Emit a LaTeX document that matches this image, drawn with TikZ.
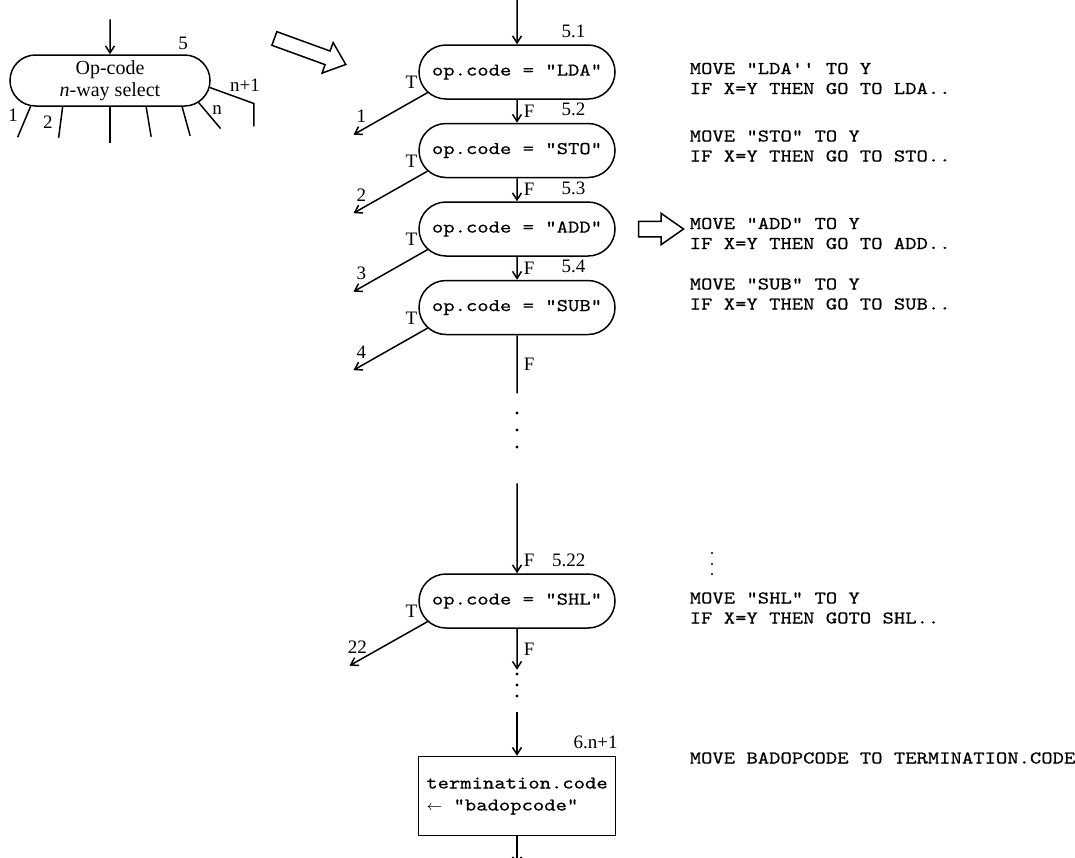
\documentclass[tikz,border=0pt]{standalone}
\usepackage{fontspec}
\setmainfont{Liberation Serif}
\setmonofont{lmmono10-regular.otf}[FakeStretch=1.2, FakeBold=0.5]
\usetikzlibrary{arrows.meta,positioning,shapes.misc,shapes.arrows}

\begin{document}
\begin{tikzpicture}[
  x=0.5pt, y=-0.5pt,
  node distance=11.5pt,
  line width=0.75pt,
  sel/.style={draw, rounded rectangle, minimum width=100pt, minimum height=25.5pt,
              inner sep=0pt, align=center, font=\fontsize{10}{11}\selectfont},
  test/.style={draw, rounded rectangle, minimum width=98pt, minimum height=27pt,
               inner sep=0pt, font=\fontsize{9}{11}\ttfamily},
  act/.style={draw, minimum width=98.5pt, minimum height=39.5pt, align=left,
              font=\fontsize{9}{11}\ttfamily},
  cobol/.style={anchor=west, inner sep=0pt, align=left, font=\fontsize{9}{10}\ttfamily},
  lbl/.style={inner sep=1pt, font=\fontsize{9.5}{10}\selectfont},
  num/.style={lbl, anchor=south east, yshift=2pt},
  arr/.style={-{Straight Barb[length=3.5pt,width=4.5pt]}},
  fatarr/.style={draw, single arrow, inner xsep=0pt, text height=0pt, text depth=0pt,
                 minimum width=0pt}
]
\useasboundingbox (0,0) rectangle (1075,857);

% n-way select
\node[sel] (sel) at (110,80.5) {Op-code\\\textit{n}-way select};
\coordinate[above=17.5pt of sel] (selin);
\draw[arr] (selin) -- (sel);
\node[lbl] (l5) at (183,43) {5};
\draw (sel.198) -- ++(-13,31);
\draw (sel.209) -- ++(-4,31);
\draw (sel.south) -- ++(0,36);
\draw (sel.324) -- ++(5,30);
\draw (sel.340) -- ++(8,29);
\draw (sel.346) -- ++(22,26);
\draw (sel.356) -- ++(44,16) -- ++(0,23);
\node[lbl] (l1) at (13,115) {1};
\node[lbl] (l2) at (48,122) {2};
\node[lbl] (ln) at (217,110) {n};
\node[lbl] (lnn) at (245,85) {n+1};

\node[fatarr, minimum height=38pt, inner ysep=3.25pt, single arrow head extend=4.5pt,
      single arrow tip angle=80, rotate=-20] (zoomin) at (306,50) {};

% chain of tests
\node[test] (lda) at (517,72) {op.code = "LDA"};
\node[test, below=of lda] (sto) {op.code = "STO"};
\node[test, below=of sto] (add) {op.code = "ADD"};
\node[test, below=of add] (sub) {op.code = "SUB"};
\node[test, below=119pt of sub] (shl) {op.code = "SHL"};
\node[act, below=63.5pt of shl] (term) {termination.code\\{\fontsize{7}{7}$\leftarrow$} "badopcode"};

\node[num] (n51) at (lda.north east) {5.1};
\node[num] (n52) at (sto.north east) {5.2};
\node[num] (n53) at (add.north east) {5.3};
\node[num] (n54) at (sub.north east) {5.4};
\node[num] (n522) at (shl.north east) {5.22};
\node[num, xshift=2pt] (n6) at (term.north east) {6.n+1};

\coordinate[above=22.5pt of lda] (top);
\draw[arr] (top) -- (lda);
\draw[arr] (lda) -- node[lbl, right=2pt] (f1) {F} (sto);
\draw[arr] (sto) -- node[lbl, right=2pt] (f2) {F} (add);
\draw[arr] (add) -- node[lbl, right=2pt] (f3) {F} (sub);

\draw[arr] (lda.193) -- node[lbl, pos=0, xshift=-8pt, yshift=5pt] (t1) {T}
  ++(-74,42) node[lbl, xshift=4pt, yshift=9pt] (e1) {1};
\draw[arr] (sto.193) -- node[lbl, pos=0, xshift=-8pt, yshift=5pt] (t2) {T}
  ++(-74,42) node[lbl, xshift=4pt, yshift=9pt] (e2) {2};
\draw[arr] (add.193) -- node[lbl, pos=0, xshift=-8pt, yshift=5pt] (t3) {T}
  ++(-74,42) node[lbl, xshift=4pt, yshift=9pt] (e3) {3};
\draw[arr] (sub.193) -- node[lbl, pos=0, xshift=-8pt, yshift=5pt] (t4) {T}
  ++(-74,42) node[lbl, xshift=4pt, yshift=9pt] (e4) {4};
\draw[arr] (shl.193) -- node[lbl, pos=0, xshift=-8pt, yshift=5pt] (t22) {T}
  ++(-78,44) node[lbl, xshift=4pt, yshift=9pt] (e22) {22};

\coordinate[below=29pt of sub] (gap1);
\draw (sub) -- node[lbl, right=2pt] (f4) {F} (gap1);
\foreach \y in {413,430,447} \fill (517,\y) circle (0.8pt);
\coordinate[above=45pt of shl] (gap2);
\draw[arr] (gap2) -- node[lbl, pos=.86, right=2pt] (f5) {F} (shl);
\coordinate[below=20.5pt of shl] (gap3);
\draw[arr] (shl) -- node[lbl, right=2pt] (f6) {F} (gap3);
\foreach \y in {674,685,696} \fill (517,\y) circle (0.8pt);
\coordinate[above=22pt of term] (gap4);
\draw[arr] (gap4) -- (term);
\coordinate[below=14.5pt of term] (out);
\draw[arr] (term) -- (out);

% generated code
\node[fatarr, minimum height=22.5pt, inner ysep=3.5pt, single arrow head extend=4pt,
      single arrow tip angle=70, right=11pt of add] (gloss) {};
\node[cobol] (clda) at (689,78.5) {MOVE "LDA'' TO Y\\IF X=Y THEN GO TO LDA..};
\node[cobol] (csto) at (689,146) {MOVE "STO" TO Y\\IF X=Y THEN GO TO STO..};
\node[cobol] (cadd) at (689,233.5) {MOVE "ADD" TO Y\\IF X=Y THEN GO TO ADD..};
\node[cobol] (csub) at (689,294) {MOVE "SUB" TO Y\\IF X=Y THEN GO TO SUB..};
\foreach \y in {553,564,574} \fill (712,\y) circle (0.6pt);
\node[cobol] (cshl) at (689,608) {MOVE "SHL" TO Y\\IF X=Y THEN GOTO SHL..};
\node[cobol] (cterm) at (689,758) {MOVE BADOPCODE TO TERMINATION.CODE};
\end{tikzpicture}
\end{document}
